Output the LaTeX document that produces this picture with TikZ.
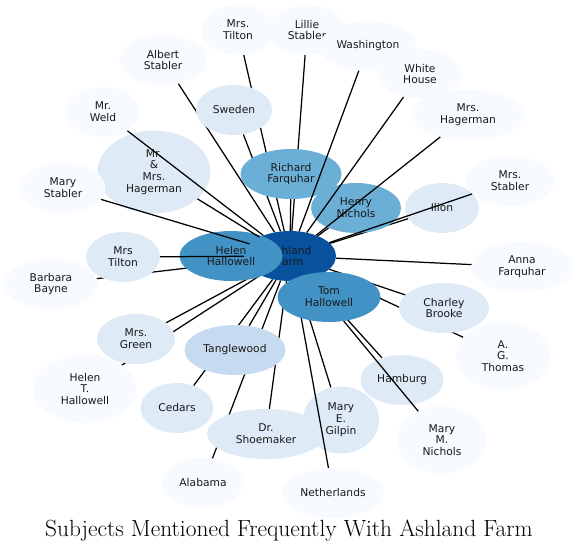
\documentclass[tikz,border=0pt]{standalone}
\usepackage{fontspec}
\usepackage{xcolor}
\usepackage{tikz}
\usetikzlibrary{shapes.geometric}
\newfontfamily\labelfont{DejaVu Sans}
\definecolor{blue0}{HTML}{F7FBFF}
\definecolor{blue1}{HTML}{DEEBF7}
\definecolor{blue2}{HTML}{C6DBEF}
\definecolor{blue3}{HTML}{6BAED6}
\definecolor{blue4}{HTML}{4292C6}
\definecolor{blue5}{HTML}{08519C}
\pgfdeclarelayer{edgesbelow}
\pgfdeclarelayer{edgesabove}
\pgfdeclarelayer{ontop}
\pgfsetlayers{edgesbelow,main,edgesabove,ontop}

\begin{document}
\begin{tikzpicture}[
  x=1pt, y=-1pt,
  subj/.style={ellipse, inner sep=0pt, align=center, minimum width=#1, minimum height=50pt,
    font=\labelfont\fontsize{10.7}{11.8}\selectfont, text=black!90},
  tall/.style={minimum height=67pt},
  link/.style={line width=1.25pt, black}
]
\useasboundingbox (0,0) rectangle (578,554);

% top fan
\node[subj=73pt, fill=blue0] (tiltontop) at (238,30) {Mrs.\\Tilton};
\node[subj=76pt, fill=blue0] (lillie) at (307,30) {Lillie\\Stabler};
\node[subj=97pt, fill=blue0] (washington) at (368,46) {Washington};
\node[subj=82pt, fill=blue0] (whitehouse) at (420,74) {White\\House};
\node[subj=112pt, fill=blue0] (mrshagerman) at (468,115) {Mrs.\\Hagerman};
\node[subj=88pt, fill=blue0] (albert) at (163,60) {Albert\\Stabler};
\node[subj=73pt, fill=blue0] (weld) at (103,112) {Mr.\\Weld};
\node[subj=76pt, fill=blue1] (sweden) at (234,110) {Sweden};
\node[subj=113pt, fill=blue1, minimum height=83pt] (hagermans) at (154,172) {Mr.\\\&\\Mrs.\\Hagerman};
\node[subj=85pt, fill=blue0] (marystabler) at (63,188) {Mary\\Stabler};
\node[subj=101pt, fill=blue3] (richard) at (291,174) {Richard\\Farquhar};
\node[subj=90pt, fill=blue3] (henry) at (356,208) {Henry\\Nichols};
\node[subj=74pt, fill=blue1] (ilion) at (442,208) {Ilion};
\node[subj=88pt, fill=blue0] (mrsstabler) at (510,181) {Mrs.\\Stabler};

% centre row
\node[subj=92pt, fill=blue5] (ashland) at (290,256) {Ashland\\Farm};
\node[subj=103pt, fill=blue4] (helen) at (231,256) {Helen\\Hallowell};
\node[subj=74pt, fill=blue1] (tiltonleft) at (123,257) {Mrs\\Tilton};
\node[subj=93pt, fill=blue0] (barbara) at (51,284) {Barbara\\Bayne};
\node[subj=101pt, fill=blue0] (anna) at (522,267) {Anna\\Farquhar};
\begin{pgfonlayer}{ontop}
\node[subj=103pt, fill=blue4] (tom) at (329,297) {Tom\\Hallowell};
\end{pgfonlayer}

% bottom fan
\node[subj=90pt, fill=blue1] (charley) at (444,308) {Charley\\Brooke};
\node[subj=95pt, fill=blue0, tall] (agthomas) at (503,356) {A.\\G.\\Thomas};
\node[subj=78pt, fill=blue1] (green) at (136,339) {Mrs.\\Green};
\node[subj=101pt, fill=blue2] (tanglewood) at (235,350) {Tanglewood};
\node[subj=103pt, fill=blue0, minimum height=68pt] (helent) at (85,389) {Helen\\T.\\Hallowell};
\node[subj=83pt, fill=blue1] (hamburg) at (402,380) {Hamburg};
\node[subj=73pt, fill=blue1] (cedars) at (177,408) {Cedars};
\node[subj=118pt, fill=blue1] (shoemaker) at (266,434) {Dr.\\Shoemaker};
\node[subj=76pt, fill=blue1, tall] (gilpin) at (341,420) {Mary\\E.\\Gilpin};
\node[subj=90pt, fill=blue0, tall] (marymnichols) at (442,440) {Mary\\M.\\Nichols};
\node[subj=81pt, fill=blue0] (alabama) at (203,483) {Alabama};
\node[subj=102pt, fill=blue0] (netherlands) at (333,493) {Netherlands};

\node[font=\fontsize{23.4}{28}\selectfont] (title) at (289,531) {Subjects Mentioned Frequently With Ashland Farm};

% links hidden under the nodes
\begin{pgfonlayer}{edgesbelow}
\draw[link] (ashland) -- (tiltontop);
\draw[link] (ashland) -- (lillie);
\draw[link] (ashland) -- (albert);
\draw[link] (ashland) -- (sweden);
\draw[link] (ashland) -- (richard);
\draw[link] (ashland) -- (henry);
\draw[link] (ashland) -- (ilion);
\draw[link] (ashland) -- (anna);
\draw[link] (ashland) -- (charley);
\draw[link] (ashland) -- (agthomas);
\draw[link] (ashland) -- (hamburg);
\draw[link] (ashland) -- (gilpin);
\draw[link] (ashland) -- (shoemaker);
\draw[link] (ashland) -- (alabama);
\draw[link] (ashland) -- (cedars);
\draw[link] (ashland) -- (tanglewood);
\draw[link] (ashland) -- (green);
\draw[link] (ashland) -- (helent);
\draw[link] (ashland) -- (barbara);
\draw[link] (ashland) -- (helen);
\draw[link] (ashland) -- (tom);
\end{pgfonlayer}

% links crossing over the nodes
\begin{pgfonlayer}{edgesabove}
\draw[link] (ashland) -- (washington);
\draw[link] (ashland) -- (whitehouse);
\draw[link] (ashland) -- (mrshagerman);
\draw[link] (ashland) -- (mrsstabler);
\draw[link] (ashland) -- (weld);
\draw[link] (ashland) -- (hagermans);
\draw[link] (ashland) -- (marystabler);
\draw[link] (ashland) -- (tiltonleft);
\draw[link] (ashland) -- (netherlands);
\draw[link] (ashland) -- (marymnichols);
\end{pgfonlayer}
\end{tikzpicture}
\end{document}
